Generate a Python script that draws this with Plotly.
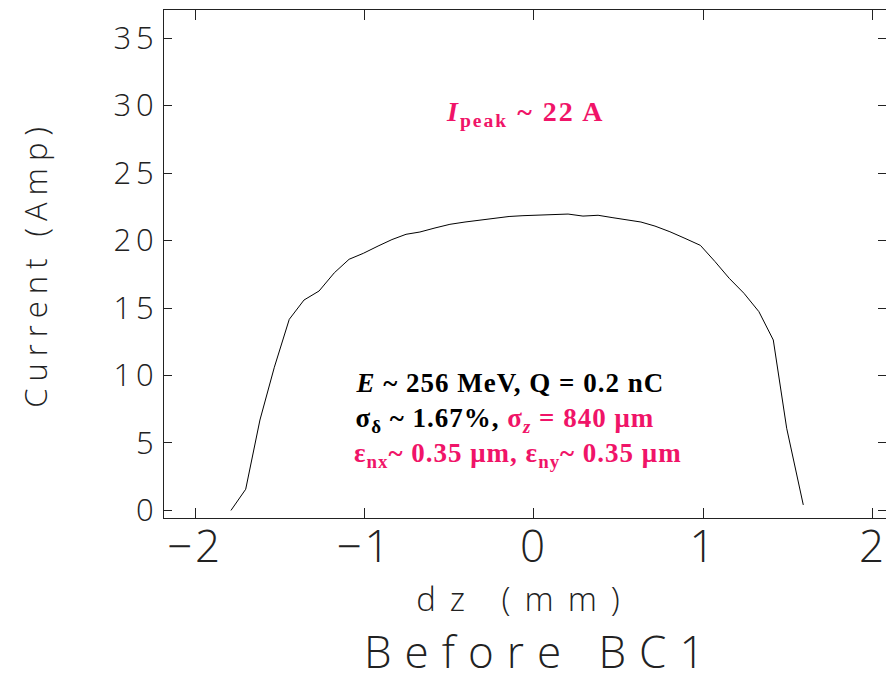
import plotly.graph_objects as go

# Longitudinal current profile of the bunch (dz in mm, current in A)
dz_mm = [-1.788, -1.701, -1.617, -1.532, -1.444, -1.357, -1.268, -1.178, -1.091, -1.007,
         -0.920, -0.838, -0.755, -0.673, -0.584, -0.496, -0.407, -0.319, -0.230, -0.147,
         -0.065, 0.024, 0.112, 0.201, 0.289, 0.378, 0.466, 0.549, 0.631, 0.714,
         0.802, 0.891, 0.982, 1.068, 1.152, 1.239, 1.327, 1.412, 1.491, 1.589]
current_amp = [0.0, 1.57, 6.70, 10.61, 14.16, 15.59, 16.26, 17.61, 18.61, 19.05,
               19.59, 20.07, 20.46, 20.63, 20.93, 21.20, 21.37, 21.52, 21.69, 21.78,
               21.84, 21.89, 21.93, 21.96, 21.81, 21.87, 21.69, 21.52, 21.37, 21.07,
               20.65, 20.16, 19.64, 18.44, 17.20, 16.09, 14.73, 12.63, 6.09, 0.41]

x_ticks = [-2, -1, 0, 1, 2]
y_ticks = [0, 5, 10, 15, 20, 25, 30, 35]

x_title = "dz (mm)"
y_title = "Current (Amp)"
caption = "Before BC1"

RED = "#F01468"
INK = "#222"
THIN = "Open Sans, Roboto, DejaVu Sans, sans-serif"
SERIF = "Liberation Serif, Times New Roman, serif"

fig = go.Figure()
fig.add_trace(go.Scatter(x=dz_mm, y=current_amp, mode="lines",
                         line=dict(color="black", width=1), showlegend=False))

axis_common = dict(showgrid=False, zeroline=False, showline=True, linecolor=INK,
                   linewidth=1, mirror="ticks", ticks="inside", tickcolor=INK,
                   tickwidth=1)

fig.update_xaxes(range=[-2.183, 2.077], tickvals=x_ticks, ticklen=10,
                 ticklabelstandoff=-10,
                 tickfont=dict(family=THIN, size=44, color=INK, weight=300),
                 title=dict(text=x_title, standoff=14,
                            font=dict(family=THIN, size=33, color=INK, weight=300)),
                 **axis_common)
fig.update_yaxes(range=[-0.56, 37.08], tickvals=y_ticks, ticklen=8,
                 ticklabelstandoff=-2,
                 tickfont=dict(family=THIN, size=31, color=INK, weight=300),
                 title=dict(text=y_title, standoff=66,
                            font=dict(family=THIN, size=31, color=INK, weight=300)),
                 **axis_common)

sigma_line = ("<b>σ<sub>δ</sub> ~ 1.67%, <span style='color:" + RED +
              "'>σ<sub><i>z</i></sub> = 840 μm</span></b>")

annotations = [
    dict(text="<b><i>I</i><sub>peak</sub> ~ 22 A</b>", x=0.501, y=0.797,
         xanchor="center", yanchor="middle", font=dict(size=28, color=RED)),
    dict(text="<b><i>E</i> ~ 256 MeV, Q = 0.2 nC</b>", x=0.279, y=0.266,
         xanchor="left", yanchor="middle", font=dict(size=27, color="black")),
    dict(text=sigma_line, x=0.279, y=0.193, xanchor="left", yanchor="middle",
         font=dict(size=27, color="black")),
    dict(text="<b>ε<sub>nx</sub>~ 0.35 μm, ε<sub>ny</sub>~ 0.35 μm</b>", x=0.279, y=0.124,
         xanchor="left", yanchor="middle", font=dict(size=27, color=RED)),
]
for a in annotations:
    a["font"].update(family=SERIF)
    fig.add_annotation(xref="paper", yref="paper", showarrow=False, **a)

fig.add_annotation(text=caption, xref="paper", yref="paper", x=0.522, y=-0.262,
                   xanchor="center", yanchor="middle", showarrow=False,
                   font=dict(family=THIN, size=44, color=INK, weight=300))

fig.update_layout(width=886, height=681, margin=dict(l=164, r=0, t=10, b=163),
                  paper_bgcolor="white", plot_bgcolor="white")

# Wide, plotter-style lettering for the axis texts and the caption
letter_spacing = """
var st = document.createElement('style');
st.textContent = 'g.xtick text{letter-spacing:3px}' +
  'g.ytick text{letter-spacing:5px}' +
  'text.xtitle{letter-spacing:14px}' +
  'text.ytitle{letter-spacing:7px}' +
  'g.annotation[data-index="0"] text{letter-spacing:2px}' +
  'g.annotation[data-index="1"] text, g.annotation[data-index="2"] text,' +
  'g.annotation[data-index="3"] text{letter-spacing:1px}' +
  'g.annotation[data-index="4"] text{letter-spacing:13px}';
document.head.appendChild(st);
"""

fig.write_html("out.html", post_script=letter_spacing)
